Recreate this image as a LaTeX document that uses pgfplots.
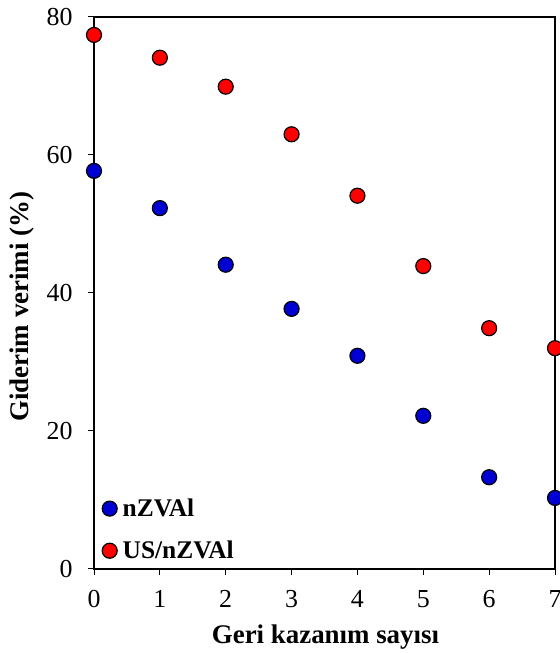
\documentclass[border=0pt]{standalone}
\usepackage{fontspec}
\setmainfont{Liberation Serif}
\usepackage{pgfplots}
\pgfplotsset{compat=1.18}
\definecolor{myblue}{RGB}{0,0,210}
\definecolor{myred}{RGB}{255,0,0}
\begin{document}
\begin{tikzpicture}
\begin{axis}[
  scale only axis,
  width=461bp, height=552bp,
  xmin=0, xmax=7, ymin=0, ymax=80,
  xtick={0,1,...,7},
  ytick={0,20,...,80},
  xtick pos=left, ytick pos=left,
  tick align=outside,
  major tick length=6bp,
  axis line style={line width=2.2bp},
  every tick/.style={black, line width=1bp},
  /pgf/number format/assume math mode=true,
  ticklabel style={font=\fontsize{26}{30}\selectfont},
  xticklabel style={yshift=-12bp},
  yticklabel style={xshift=-12bp},
  xlabel={\textbf{Geri kazanım sayısı}},
  ylabel={\textbf{Giderim verimi (\%)}},
  label style={font=\fontsize{27}{32}\selectfont},
  x label style={at={(axis description cs:0.5,0)}, anchor=center, yshift=-68bp, xshift=1bp},
  y label style={at={(axis description cs:0,0.475)}, anchor=center, yshift=72bp},
  clip=false,
  legend style={at={(0.0,0.0)}, anchor=south west, draw=none, fill=none,
    font=\fontsize{25.5}{30}\selectfont\bfseries, row sep=20bp, column sep=4bp,
    inner sep=0pt, xshift=8bp, yshift=7bp,
    nodes={inner sep=1.5bp}},
  legend cell align=left,
  legend image code/.code={\draw[#1] plot coordinates {(0bp,0bp)};},
]
\addplot[only marks, mark=*, mark size=7.5bp, mark options={fill=myblue, draw=black, line width=1.2bp}]
coordinates {(0,57.7) (1,52.3) (2,44.1) (3,37.7) (4,30.9) (5,22.2) (6,13.3) (7,10.3)};
\addlegendentry{nZVAl}
\addplot[only marks, mark=*, mark size=7.5bp, mark options={fill=myred, draw=black, line width=1.2bp}]
coordinates {(0,77.4) (1,74.1) (2,69.9) (3,63.0) (4,54.1) (5,43.9) (6,34.9) (7,32.0)};
\addlegendentry{US/nZVAl}
\end{axis}
\pgfresetboundingbox
\useasboundingbox ([xshift=-94bp,yshift=-84bp]current axis.south west) rectangle ([xshift=5bp,yshift=17bp]current axis.north east);
\end{tikzpicture}
\end{document}
